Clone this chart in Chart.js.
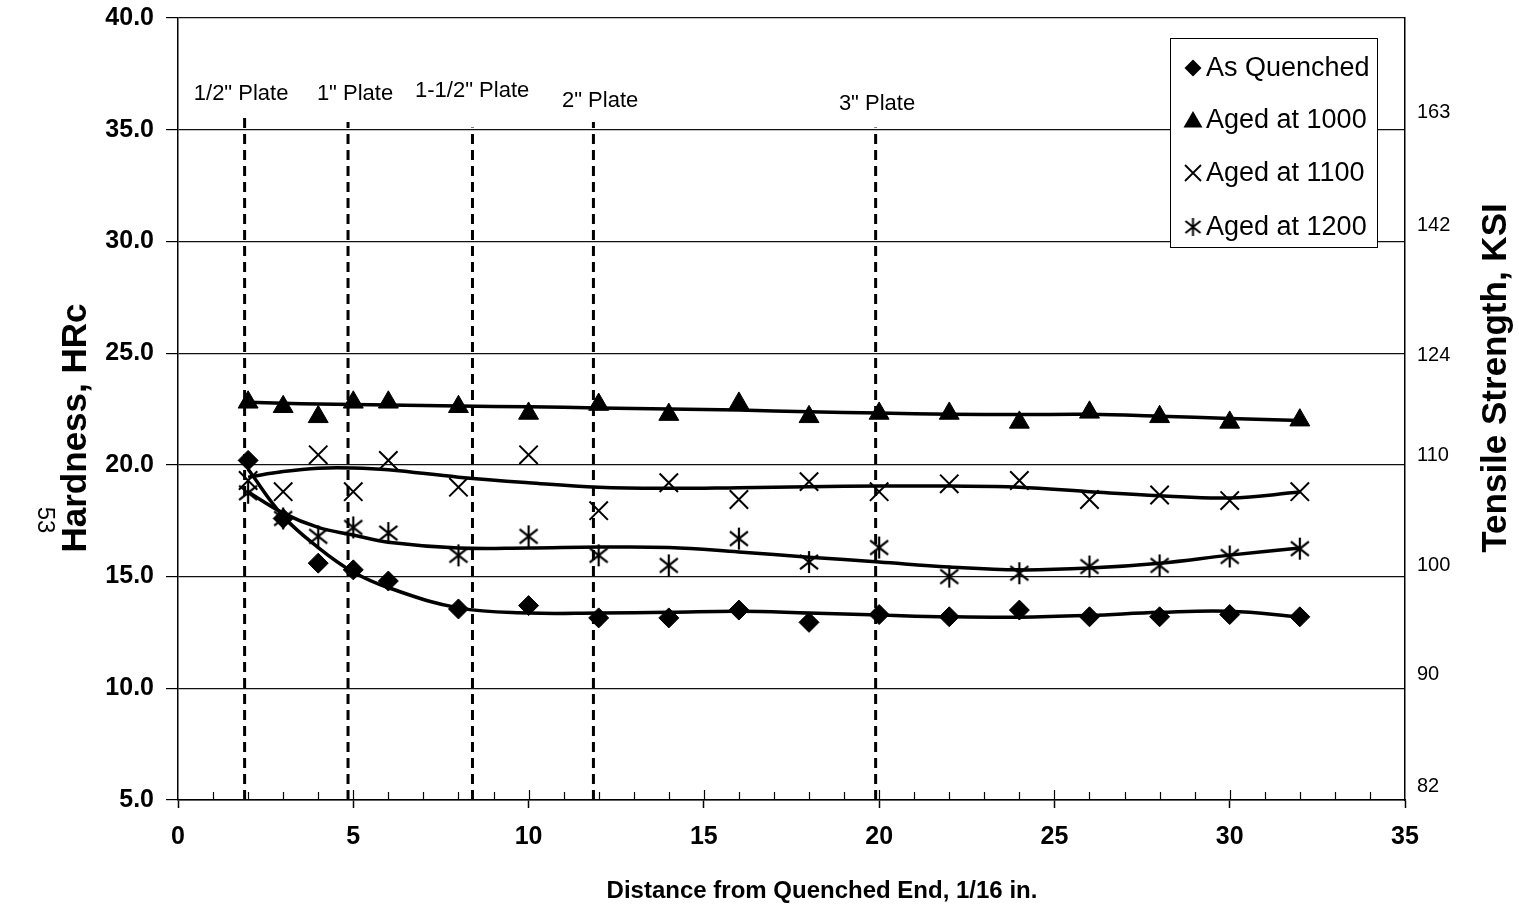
<!DOCTYPE html>
<html><head><meta charset="utf-8">
<script src="https://cdn.jsdelivr.net/npm/chart.js@4.4.1/dist/chart.umd.min.js"></script>
<style>html,body{margin:0;padding:0;background:#fff;}#wrap{position:relative;width:1519px;height:906px;}</style>
</head><body><div id="wrap"><canvas id="c" width="1519" height="906"></canvas></div>
<script>
// ---- data ----
const distance   = [2, 3, 4, 5, 6, 8, 10, 12, 14, 16, 18, 20, 22, 24, 26, 28, 30, 32];
const asQuenched = [20.2, 17.6, 15.6, 15.3, 14.8, 13.55, 13.7, 13.15, 13.15, 13.5, 12.95, 13.3, 13.2, 13.5, 13.2, 13.2, 13.3, 13.2];
const aged1000   = [22.8, 22.6, 22.15, 22.8, 22.8, 22.6, 22.3, 22.7, 22.25, 22.75, 22.15, 22.3, 22.3, 21.9, 22.35, 22.15, 21.9, 22.0];
const aged1100   = [19.3, 18.8, 20.45, 18.8, 20.2, 19.0, 20.45, 17.95, 19.2, 18.45, 19.25, 18.8, 19.15, 19.3, 18.45, 18.65, 18.4, 18.8];
const aged1200   = [18.75, 17.6, 16.8, 17.2, 16.95, 15.95, 16.8, 15.95, 15.5, 16.7, 15.65, 16.3, 15.0, 15.15, 15.45, 15.5, 15.9, 16.25];

// trend curves at the same distances
const asQuenchedTrend = [19.8, 17.7, 16.3, 15.2, 14.5, 13.6, 13.37, 13.37, 13.4, 13.45, 13.37, 13.28, 13.2, 13.18, 13.26, 13.4, 13.45, 13.2];
const aged1000Trend   = [22.8, 22.76, 22.72, 22.7, 22.68, 22.63, 22.6, 22.55, 22.5, 22.45, 22.38, 22.32, 22.27, 22.25, 22.26, 22.18, 22.08, 21.98];
const aged1100Trend   = [19.45, 19.7, 19.85, 19.86, 19.78, 19.45, 19.2, 19.0, 18.95, 18.98, 19.02, 19.05, 19.05, 19.0, 18.8, 18.62, 18.52, 18.78];
const aged1200Trend   = [18.78, 17.84, 17.2, 16.86, 16.54, 16.28, 16.28, 16.32, 16.3, 16.1, 15.87, 15.65, 15.43, 15.3, 15.38, 15.6, 15.96, 16.28];

const seriesNames = ['As Quenched', 'Aged at 1000', 'Aged at 1100', 'Aged at 1200'];

// plate reference lines
const plateNames  = ['1/2" Plate', '1" Plate', '1-1/2" Plate', '2" Plate', '3" Plate'];
const plateX      = [1.9, 4.85, 8.4, 11.85, 19.9];
const plateTop    = [35.75, 35.35, 35.1, 35.35, 35.1];
const plateLabelX = [1.8, 5.05, 8.39, 12.04, 19.94];
const plateLabelY = [36.6, 36.6, 36.73, 36.28, 36.15];

// right axis (tensile strength) tick labels and the hardness level where each sits
const rightTickLabels = ['82', '90', '100', '110', '124', '142', '163'];
const rightTickPos    = [5.6, 10.6, 15.5, 20.4, 24.9, 30.7, 35.75];

const xTitle = 'Distance from Quenched End, 1/16 in.';
const yTitle = 'Hardness, HRc';
const y2Title = 'Tensile Strength, KSI';
const pageNo = '53';

// ---- helpers ----
const FONT = '"Liberation Sans", Arial, Helvetica, sans-serif';
function pts(xs, ys){ return xs.map((x,i)=>({x:x, y:ys[i]})); }
function makeAsterisk(w, h, lw){
  const c = document.createElement('canvas'); c.width = w; c.height = h;
  const g = c.getContext('2d'); g.strokeStyle = '#000'; g.lineWidth = lw;
  const mx = w/2, my = h/2;
  g.beginPath();
  g.moveTo(mx, 1); g.lineTo(mx, h-1);
  g.moveTo(2, my - h*0.3); g.lineTo(w-2, my + h*0.3);
  g.moveTo(w-2, my - h*0.3); g.lineTo(2, my + h*0.3);
  g.stroke();
  return c;
}
const asteriskImg = makeAsterisk(22, 24, 2.2);
const asteriskLegend = makeAsterisk(19, 20, 2);

const trendStyle = {showLine:true, borderColor:'#000', borderWidth:3.5, tension:0.4, pointRadius:0, pointHoverRadius:0, fill:false};
const datasets = [
  {label:seriesNames[0], data:pts(distance, asQuenched), pointStyle:'rectRot', pointRadius:10, backgroundColor:'#000', borderColor:'#000', borderWidth:1, showLine:false},
  {label:seriesNames[1], data:pts(distance, aged1000), pointStyle:'triangle', pointRadius:11.5, backgroundColor:'#000', borderColor:'#000', borderWidth:1, showLine:false},
  {label:seriesNames[2], data:pts(distance, aged1100), pointStyle:'crossRot', pointRadius:13, backgroundColor:'#000', borderColor:'#000', borderWidth:2, showLine:false},
  {label:seriesNames[3], data:pts(distance, aged1200), pointStyle:asteriskImg, pointRadius:11, backgroundColor:'#000', borderColor:'#000', borderWidth:2, showLine:false},
  Object.assign({label:'trend0', data:pts(distance, asQuenchedTrend)}, trendStyle),
  Object.assign({label:'trend1', data:pts(distance, aged1000Trend)}, trendStyle),
  Object.assign({label:'trend2', data:pts(distance, aged1100Trend)}, trendStyle),
  Object.assign({label:'trend3', data:pts(distance, aged1200Trend)}, trendStyle)
];
plateX.forEach((px, i) => {
  datasets.push({label:'plate'+i, data:[{x:px, y:5}, {x:px, y:plateTop[i]}], showLine:true,
    borderColor:'#000', borderWidth:3, borderDash:[10,6], pointRadius:0, pointHoverRadius:0, tension:0});
});

const annot = {
  id:'annot',
  afterDraw(chart){
    const ctx = chart.ctx, xs = chart.scales.x, ys = chart.scales.y, ca = chart.chartArea;
    ctx.save();
    ctx.fillStyle = '#000'; ctx.strokeStyle = '#000';
    // inner parts of x ticks
    ctx.lineWidth = 1.2;
    for (let v = 1; v < 35; v++) {
      const px = Math.round(xs.getPixelForValue(v)) + 0.5;
      ctx.beginPath(); ctx.moveTo(px, ca.bottom); ctx.lineTo(px, ca.bottom - (v % 5 === 0 ? 10 : 8)); ctx.stroke();
    }
    // plate labels
    ctx.font = '22px ' + FONT; ctx.textAlign = 'center'; ctx.textBaseline = 'middle';
    plateNames.forEach((t, i) => ctx.fillText(t, xs.getPixelForValue(plateLabelX[i]), ys.getPixelForValue(plateLabelY[i])));
    // legend box
    const L = ca.right - 235, T = ca.top + 20, W = 207, H = 209;
    ctx.fillStyle = '#fff'; ctx.fillRect(L, T, W, H);
    ctx.lineWidth = 1; ctx.strokeStyle = '#000'; ctx.strokeRect(L + 0.5, T + 0.5, W, H);
    ctx.fillStyle = '#000';
    const rows = [30, 82, 135, 189];
    const mx = L + 23;
    rows.forEach((r, i) => {
      const cy = T + r;
      ctx.beginPath();
      if (i === 0) { ctx.moveTo(mx, cy-8.5); ctx.lineTo(mx+8.5, cy); ctx.lineTo(mx, cy+8.5); ctx.lineTo(mx-8.5, cy); ctx.closePath(); ctx.fill(); }
      else if (i === 1) { ctx.moveTo(mx, cy-9); ctx.lineTo(mx+9.5, cy+7.5); ctx.lineTo(mx-9.5, cy+7.5); ctx.closePath(); ctx.fill(); }
      else if (i === 2) { ctx.lineWidth = 1.8; ctx.moveTo(mx-8, cy-8); ctx.lineTo(mx+8, cy+8); ctx.moveTo(mx+8, cy-8); ctx.lineTo(mx-8, cy+8); ctx.stroke(); }
      else { ctx.drawImage(asteriskLegend, mx - asteriskLegend.width/2, cy - asteriskLegend.height/2); }
      ctx.font = '27px ' + FONT; ctx.textAlign = 'left'; ctx.textBaseline = 'middle';
      ctx.fillText(seriesNames[i], L + 36, cy + 1);
    });
    // axis titles
    ctx.font = 'bold 35px ' + FONT; ctx.textAlign = 'center'; ctx.textBaseline = 'middle';
    ctx.save(); ctx.translate(76, 428); ctx.rotate(-Math.PI/2); ctx.fillText(yTitle, 0, 0); ctx.restore();
    ctx.save(); ctx.translate(1496, 378); ctx.rotate(-Math.PI/2); ctx.fillText(y2Title, 0, 0); ctx.restore();
    ctx.font = 'bold 24px ' + FONT;
    ctx.fillText(xTitle, 822, 891);
    // page number
    ctx.font = '24px ' + FONT;
    ctx.save(); ctx.translate(45, 520); ctx.rotate(Math.PI/2); ctx.fillText(pageNo, 0, 0); ctx.restore();
    ctx.restore();
  }
};

new Chart(document.getElementById('c'), {
  type:'scatter',
  data:{datasets:datasets},
  plugins:[annot],
  options:{
    responsive:false, animation:false, devicePixelRatio:1,
    layout:{padding:{top:18, left:0, right:0, bottom:0}},
    plugins:{legend:{display:false}, tooltip:{enabled:false}, title:{display:false}},
    scales:{
      x:{type:'linear', position:'bottom', min:0, max:35,
        afterFit(s){ s.height = 106; s.paddingLeft = 0; s.paddingRight = 0; },
        ticks:{stepSize:1, autoSkip:false, maxRotation:0, padding:14, color:'#000',
          font:{family:FONT, size:25, weight:'bold'},
          callback:(v)=> (v % 5 === 0 ? String(v) : '')},
        grid:{drawOnChartArea:false, drawTicks:true, tickLength:8,
          tickColor:(c)=> (c.tick && c.tick.value % 5 === 0 ? '#000' : 'rgba(0,0,0,0)'), tickWidth:1.5},
        border:{display:true, color:'#000', width:1.5},
        title:{display:false, text:xTitle}},
      y:{type:'linear', position:'left', min:5, max:40,
        afterFit(s){ s.width = 178; s.paddingTop = 0; s.paddingBottom = 0; },
        ticks:{stepSize:5, padding:12, color:'#000', font:{family:FONT, size:25, weight:'bold'},
          callback:(v)=> Number(v).toFixed(1)},
        grid:{color:'#111', lineWidth:1.2, drawTicks:true, tickLength:12, tickColor:'#000'},
        border:{display:true, color:'#000', width:1.5},
        title:{display:false, text:yTitle}},
      y2:{type:'linear', position:'right', min:5, max:40,
        afterFit(s){ s.width = 114; s.paddingTop = 0; s.paddingBottom = 0; },
        afterBuildTicks(s){ s.ticks = rightTickPos.map(v => ({value:v})); },
        ticks:{padding:4, color:'#000', font:{family:FONT, size:20},
          callback:(v, i)=> rightTickLabels[i]},
        grid:{display:false},
        border:{display:true, color:'#000', width:1.5},
        title:{display:false, text:y2Title}}
    }
  }
});
</script></body></html>
